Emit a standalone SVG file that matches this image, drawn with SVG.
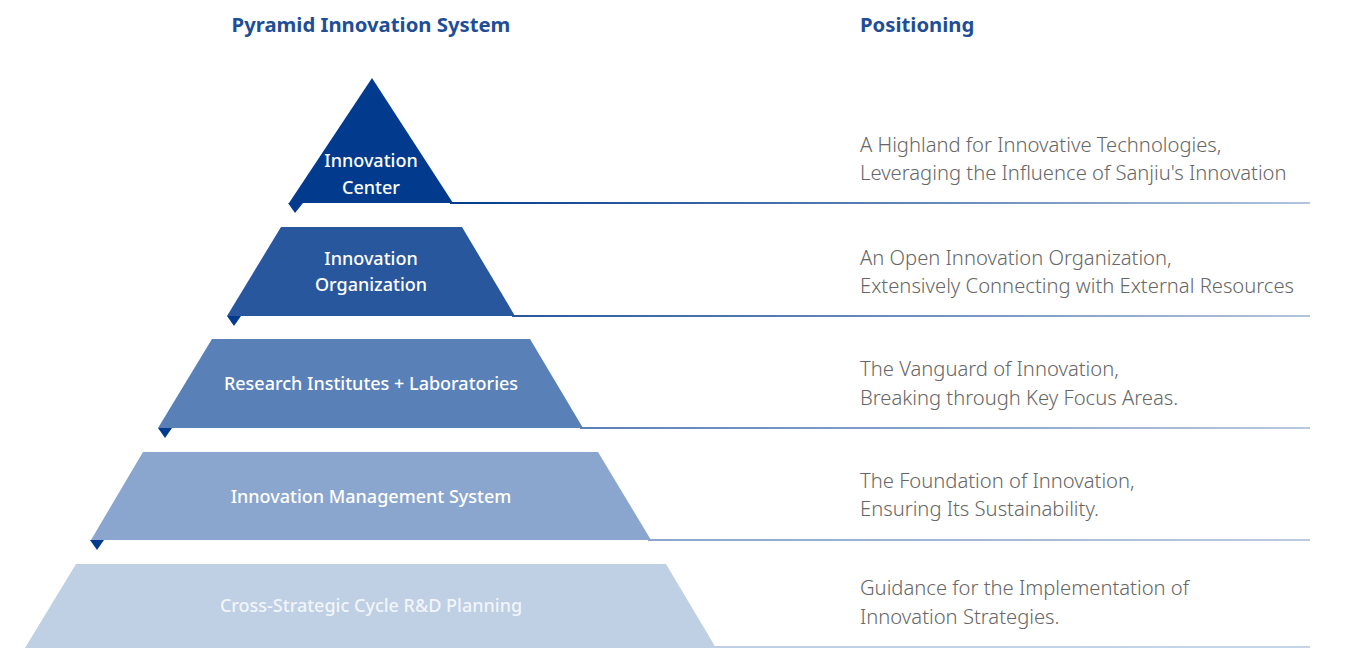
<svg xmlns="http://www.w3.org/2000/svg" width="1351" height="648" viewBox="0 0 1351 648">
<defs>
<linearGradient id="g1" x1="0" x2="1" y1="0" y2="0"><stop offset="0" stop-color="#023b8e"/><stop offset="1" stop-color="#b3c4dd"/></linearGradient>
<linearGradient id="g2" x1="0" x2="1" y1="0" y2="0"><stop offset="0" stop-color="#28579e"/><stop offset="1" stop-color="#b3c4dd"/></linearGradient>
<linearGradient id="g3" x1="0" x2="1" y1="0" y2="0"><stop offset="0" stop-color="#5a80b8"/><stop offset="1" stop-color="#b8c8e0"/></linearGradient>
<linearGradient id="g4" x1="0" x2="1" y1="0" y2="0"><stop offset="0" stop-color="#8aa6ce"/><stop offset="1" stop-color="#bccbe2"/></linearGradient>
<linearGradient id="g5" x1="0" x2="1" y1="0" y2="0"><stop offset="0" stop-color="#bfcfe4"/><stop offset="1" stop-color="#c6d4e8"/></linearGradient>
</defs>
<style>
.hd{font-family:"Noto Sans","Open Sans",sans-serif;font-weight:700;font-size:20.3px;fill:#1f4e96}
.lb{font-family:"Noto Sans","Open Sans",sans-serif;font-weight:500;font-size:18px;fill:#ffffff;text-anchor:middle}
.ds{font-family:"Noto Sans","Open Sans",sans-serif;font-weight:300;font-size:20.2px;fill:#666666}
.tab{fill:#023b8e}
</style>
<text class="hd" x="371" y="32" text-anchor="middle">Pyramid Innovation System</text>
<text class="hd" x="860" y="32">Positioning</text>
<g id="connectors">
<rect x="450" y="202" width="860" height="2" fill="url(#g1)"/>
<rect x="512" y="315" width="798" height="2" fill="url(#g2)"/>
<rect x="580" y="427" width="730" height="2" fill="url(#g3)"/>
<rect x="648" y="539" width="662" height="2" fill="url(#g4)"/>
<rect x="714" y="646" width="596" height="2" fill="url(#g5)"/>
</g>
<g id="level1">
<polygon points="372,78 453,203 289,203" fill="#023b8e"/>
<polygon class="tab" points="288,203 303,203 295,213"/>
<text class="lb" x="371" y="167">Innovation</text>
<text class="lb" x="371" y="194">Center</text>
<text class="ds" x="860" y="152">A Highland for Innovative Technologies,</text>
<text class="ds" x="860" y="180">Leveraging the Influence of Sanjiu's Innovation</text>
</g>
<g id="level2">
<polygon points="281,227 462,227 515,316 227,316" fill="#28579e"/>
<polygon class="tab" points="227,316 241,316 234,326"/>
<text class="lb" x="371" y="265">Innovation</text>
<text class="lb" x="371" y="291">Organization</text>
<text class="ds" x="860" y="265">An Open Innovation Organization,</text>
<text class="ds" x="860" y="293">Extensively Connecting with External Resources</text>
</g>
<g id="level3">
<polygon points="212,339 530,339 583,428 158,428" fill="#5a80b8"/>
<polygon class="tab" points="158,428 172,428 165,438"/>
<text class="lb" x="371" y="390">Research Institutes + Laboratories</text>
<text class="ds" x="860" y="376">The Vanguard of Innovation,</text>
<text class="ds" x="860" y="405">Breaking through Key Focus Areas.</text>
</g>
<g id="level4">
<polygon points="143,452 598,452 651,540 91,540" fill="#8aa6ce"/>
<polygon class="tab" points="90,540 104,540 97,550"/>
<text class="lb" x="371" y="503">Innovation Management System</text>
<text class="ds" x="860" y="488">The Foundation of Innovation,</text>
<text class="ds" x="860" y="516">Ensuring Its Sustainability.</text>
</g>
<g id="level5">
<polygon points="76,564 666,564 716,648 25,648" fill="#bfcfe4"/>
<text class="lb" x="371" y="612" style="fill:#f2f5fa">Cross-Strategic Cycle R&amp;D Planning</text>
<text class="ds" x="860" y="595">Guidance for the Implementation of</text>
<text class="ds" x="860" y="624">Innovation Strategies.</text>
</g>
</svg>
